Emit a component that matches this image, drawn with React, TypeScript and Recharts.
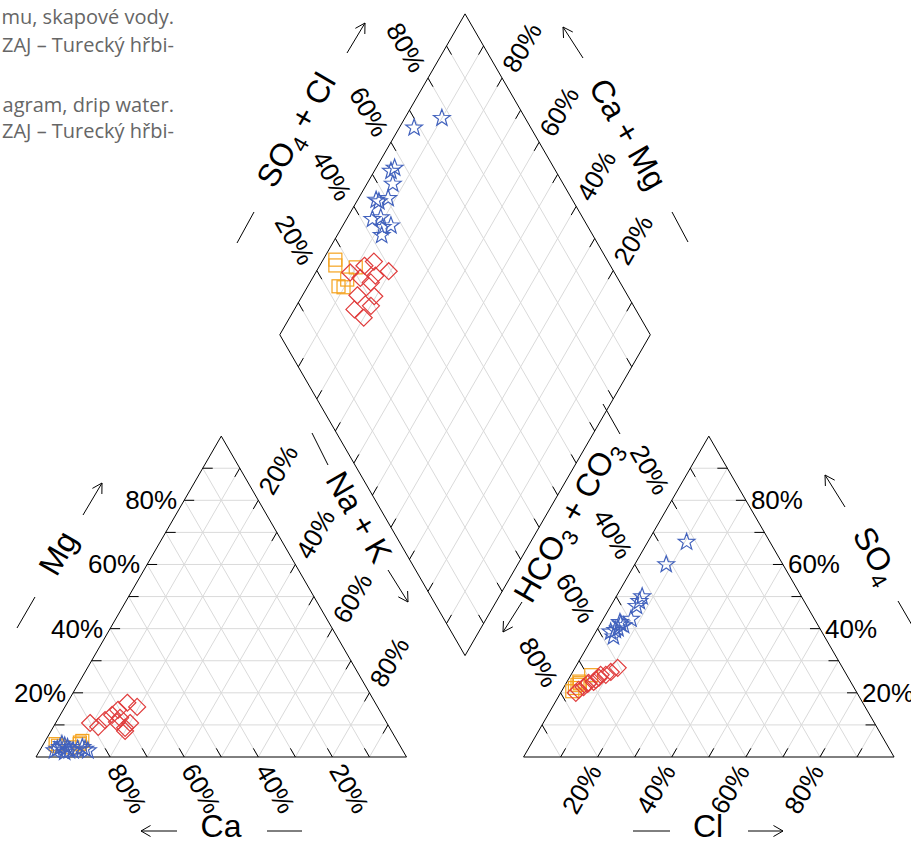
import React from 'react';
import { ScatterChart, Scatter, XAxis, YAxis, ReferenceLine } from 'recharts';

// ---------------- DATA (percent of meq/L) ----------------
// Blue stars
const starCa = [87.5, 94, 92, 93, 90, 90, 90.5, 89, 86, 85.5, 91.5, 91, 85];
const starMg = [2.5, 2, 3, 2.5, 3, 2, 3.5, 2, 3, 2.5, 1.5, 4, 2];
const starNaK = [10, 4, 5, 4.5, 7, 8, 6, 9, 11, 12, 7, 5, 13];
const starHCO3 = [22.5, 31.5, 43, 44.5, 46, 49.5, 52.5, 54.5, 55.5, 57, 57, 53, 53];
const starSO4 = [67, 60, 50, 48.5, 47, 43, 41, 40, 39.5, 37.5, 39, 42, 41.5];
const starCl = [10.5, 8.5, 7, 7, 7, 7.5, 6.5, 5.5, 5, 5.5, 4, 5, 5.5];

// Orange squares
const sqCa = [92.7, 92.3, 85, 85.9, 88.7, 86.2];
const sqMg = [4, 3.5, 5, 4.5, 3, 4];
const sqNaK = [3.3, 4.2, 10, 9.6, 8.3, 9.8];
const sqHCO3 = [73.3, 74.2, 69, 73.2, 76.6, 75.4];
const sqSO4 = [23, 22.5, 25.5, 23.5, 20.5, 21.5];
const sqCl = [3.7, 3.3, 5.5, 3.3, 2.9, 3.1];

// Red diamonds
const diCa = [80.1, 78.5, 75.6, 72.9, 70.5, 66.9, 64.9, 71.2, 72.7, 71.4, 69.3, 71.9];
const diMg = [10.6, 9.4, 11.5, 13.1, 14.7, 16.9, 15.6, 12.2, 10.9, 9.1, 10.6, 8.1];
const diNaK = [9.3, 12.1, 12.9, 14.0, 14.8, 16.2, 19.5, 16.6, 16.4, 19.5, 20.1, 20.0];
const diHCO3 = [71.3, 66.4, 69.4, 63.2, 72.9, 75.9, 60.7, 65.0, 67.3, 68.5, 70.9, 74.7];
const diSO4 = [22.8, 25.6, 23.4, 26.5, 21.8, 20.0, 27.8, 25.6, 24.7, 24.0, 23.1, 20.9];
const diCl = [5.9, 8.0, 7.2, 10.3, 5.3, 4.1, 11.5, 9.4, 8.0, 7.5, 6.0, 4.4];

const gridPct = [10, 20, 30, 40, 50, 60, 70, 80, 90];
const tickLabelPct = [20, 40, 60, 80];

const captionLines = [
  'mu, skapové vody.',
  'ZAJ – Turecký hřbi-',
  'agram, drip water.',
  'ZAJ – Turecký hřbi-',
];

// ---------------- GEOMETRY ----------------
const W = 911;
const H = 843;
const S = 3.705; // px per unit
const X0 = 36;
const Y0 = 757;
const G = 31.6; // gap between triangles (units)
const H3 = Math.sqrt(3) / 2;
const BX = 100 + G / 2;
const BY = G * H3;

type P = { x: number; y: number };
const cat = (ca: number, mg: number, na: number): P => ({ x: na + mg / 2, y: mg * H3 });
const an = (hco3: number, so4: number, cl: number): P => ({ x: 100 + G + cl + so4 / 2, y: so4 * H3 });
const dia = (a: number, s: number): P => ({ x: BX - a / 2 + s / 2, y: BY + (a + s) * H3 });
const fromPx = (x: number, y: number): P => ({ x: (x - X0) / S, y: (Y0 - y) / S });

const xDomain = [-X0 / S, (W - X0) / S];
const yDomain = [(Y0 - H) / S, Y0 / S];

function buildSeries(ca: number[], mg: number[], na: number[], hco3: number[], so4: number[], cl: number[]) {
  const left = ca.map((_, i) => cat(ca[i], mg[i], na[i]));
  const right = hco3.map((_, i) => an(hco3[i], so4[i], cl[i]));
  const mid = ca.map((_, i) => dia(ca[i] + mg[i], so4[i] + cl[i]));
  return [...left, ...right, ...mid];
}

const starPts = buildSeries(starCa, starMg, starNaK, starHCO3, starSO4, starCl);
const sqPts = buildSeries(sqCa, sqMg, sqNaK, sqHCO3, sqSO4, sqCl);
const diPts = buildSeries(diCa, diMg, diNaK, diHCO3, diSO4, diCl);

type Seg = { a: P; b: P };
const gridSegs: Seg[] = [];
const tickSegs: Seg[] = [];
const frameSegs: Seg[] = [];
const decoSegs: Seg[] = [];
const T = 10 / S;

gridPct.forEach((p) => {
  // left triangle
  gridSegs.push({ a: cat(100 - p, p, 0), b: cat(0, p, 100 - p) });
  gridSegs.push({ a: cat(100 - p, 0, p), b: cat(0, 100 - p, p) });
  gridSegs.push({ a: cat(p, 0, 100 - p), b: cat(p, 100 - p, 0) });
  // right triangle
  gridSegs.push({ a: an(100 - p, p, 0), b: an(0, p, 100 - p) });
  gridSegs.push({ a: an(100 - p, 0, p), b: an(0, 100 - p, p) });
  gridSegs.push({ a: an(p, 0, 100 - p), b: an(p, 100 - p, 0) });
  // diamond
  gridSegs.push({ a: dia(p, 0), b: dia(p, 100) });
  gridSegs.push({ a: dia(0, p), b: dia(100, p) });

  // ticks
  tickSegs.push({ a: cat(100 - p, p, 0), b: cat(100 - p - T, p, T) });
  tickSegs.push({ a: cat(p, 0, 100 - p), b: cat(p, T, 100 - p - T) });
  tickSegs.push({ a: cat(0, 100 - p, p), b: cat(T, 100 - p - T, p) });
  tickSegs.push({ a: an(100 - p, 0, p), b: an(100 - p - T, T, p) });
  tickSegs.push({ a: an(0, p, 100 - p), b: an(T, p, 100 - p - T) });
  tickSegs.push({ a: an(p, 100 - p, 0), b: an(p, 100 - p - T, T) });
  tickSegs.push({ a: dia(100, p), b: dia(100 - T, p) });
  tickSegs.push({ a: dia(p, 100), b: dia(p, 100 - T) });
  tickSegs.push({ a: dia(p, 0), b: dia(p, T) });
  tickSegs.push({ a: dia(0, p), b: dia(T, p) });
});

const polys: P[][] = [
  [cat(100, 0, 0), cat(0, 0, 100), cat(0, 100, 0)],
  [an(100, 0, 0), an(0, 0, 100), an(0, 100, 0)],
  [dia(0, 0), dia(100, 0), dia(100, 100), dia(0, 100)],
];
polys.forEach((poly) => {
  poly.forEach((pt, i) => frameSegs.push({ a: pt, b: poly[(i + 1) % poly.length] }));
});

// titles, arrows, dashes (pixel layout)
type Part = { t: string; sub?: boolean };
type TitleSpec = { parts: Part[]; c: [number, number]; angle: number; arrow: [number, number, number, number]; dash: [number, number, number, number] };
const titles: TitleSpec[] = [
  { parts: [{ t: 'Ca' }], c: [221, 826], angle: 0, arrow: [177, 831, 141, 831], dash: [267, 831, 302, 831] },
  { parts: [{ t: 'Cl' }], c: [708, 826], angle: 0, arrow: [748, 831, 783, 831], dash: [633, 831, 670, 831] },
  { parts: [{ t: 'Mg' }], c: [58, 553], angle: -60, arrow: [83, 515, 102, 483], dash: [17, 628, 35, 597] },
  { parts: [{ t: 'SO' }, { t: '4', sub: true }], c: [876, 555], angle: 60, arrow: [845, 507, 825, 475], dash: [898, 601, 916, 632] },
  { parts: [{ t: 'Na + K' }], c: [359, 517], angle: 60, arrow: [388, 570, 408, 602], dash: [312, 433, 328, 465] },
  { parts: [{ t: 'HCO' }, { t: '3', sub: true }, { t: ' + CO' }, { t: '3', sub: true }], c: [567, 521], angle: -60, arrow: [522, 602, 503, 632], dash: [603, 404, 620, 434] },
  { parts: [{ t: 'SO' }, { t: '4', sub: true }, { t: ' + Cl' }], c: [296, 130], angle: -60, arrow: [347, 53, 365, 23], dash: [237, 243, 254, 212] },
  { parts: [{ t: 'Ca + Mg' }], c: [628, 134], angle: 60, arrow: [583, 58, 563, 27], dash: [672, 212, 688, 242] },
];

titles.forEach((tt) => {
  const [x1, y1, x2, y2] = tt.arrow;
  decoSegs.push({ a: fromPx(x1, y1), b: fromPx(x2, y2) });
  const ang = Math.atan2(y2 - y1, x2 - x1);
  const L = 11;
  [Math.PI / 6, -Math.PI / 6].forEach((d) => {
    const a2 = ang + Math.PI + d;
    decoSegs.push({ a: fromPx(x2, y2), b: fromPx(x2 + L * Math.cos(a2), y2 + L * Math.sin(a2)) });
  });
  const [d1, e1, d2, e2] = tt.dash;
  decoSegs.push({ a: fromPx(d1, e1), b: fromPx(d2, e2) });
});

type Lab = P & { parts: Part[]; angle: number; anchor: 'start' | 'middle' | 'end'; dx: number; dy: number; size: number };
const labels: Lab[] = [];
const TS = 26;
tickLabelPct.forEach((v) => {
  const parts = [{ t: `${v}%` }];
  labels.push({ ...cat(100 - v, v, 0), parts, angle: 0, anchor: 'end', dx: -7, dy: 0, size: TS });
  labels.push({ ...cat(v, 0, 100 - v), parts, angle: 60, anchor: 'start', dx: 4, dy: 9, size: TS });
  labels.push({ ...cat(0, 100 - v, v), parts, angle: -60, anchor: 'start', dx: 7, dy: -8, size: TS });
  labels.push({ ...an(100 - v, 0, v), parts, angle: -60, anchor: 'end', dx: -3, dy: 9.5, size: TS });
  labels.push({ ...an(0, v, 100 - v), parts, angle: 0, anchor: 'start', dx: 5, dy: 0, size: TS });
  labels.push({ ...an(v, 100 - v, 0), parts, angle: 60, anchor: 'end', dx: -9, dy: -8, size: TS });
  labels.push({ ...dia(100, v), parts, angle: 60, anchor: 'end', dx: -9, dy: -8, size: TS });
  labels.push({ ...dia(v, 100), parts, angle: -60, anchor: 'start', dx: 7, dy: -8, size: TS });
});
titles.forEach((tt) => {
  labels.push({ ...fromPx(tt.c[0], tt.c[1]), parts: tt.parts, angle: tt.angle, anchor: 'middle', dx: 0, dy: 0, size: 32 });
});

// ---------------- SHAPES ----------------
const FONT = "'Liberation Sans', Arial, Helvetica, sans-serif";
const BLUE = '#4262bd';
const ORANGE = '#f5a31e';
const RED = '#e03c3c';

const StarShape = (props: any) => {
  const { cx, cy } = props;
  if (cx == null || cy == null) return null;
  const R = 8.8, r = 3.6;
  let d = '';
  for (let i = 0; i < 10; i++) {
    const a = -Math.PI / 2 + (i * Math.PI) / 5;
    const rad = i % 2 === 0 ? R : r;
    d += (i === 0 ? 'M' : 'L') + (cx + rad * Math.cos(a)).toFixed(2) + ',' + (cy + rad * Math.sin(a)).toFixed(2);
  }
  return <path d={d + 'Z'} fill="none" stroke={BLUE} strokeWidth={1.2} />;
};
const SquareShape = (props: any) => {
  const { cx, cy } = props;
  if (cx == null || cy == null) return null;
  return <rect x={cx - 6.5} y={cy - 6.5} width={13} height={13} fill="none" stroke={ORANGE} strokeWidth={1.2} />;
};
const DiamondShape = (props: any) => {
  const { cx, cy } = props;
  if (cx == null || cy == null) return null;
  const r = 8.5;
  return <path d={`M${cx},${cy - r}L${cx + r},${cy}L${cx},${cy + r}L${cx - r},${cy}Z`} fill="none" stroke={RED} strokeWidth={1.2} />;
};
const LabelShape = (props: any) => {
  const { cx, cy, payload } = props;
  if (cx == null || cy == null || !payload) return null;
  const x = cx + payload.dx;
  const y = cy + payload.dy;
  let shift = 0;
  return (
    <text
      x={x}
      y={y}
      textAnchor={payload.anchor}
      dominantBaseline="central"
      fontSize={payload.size}
      fontFamily={FONT}
      fill="#000"
      style={{ whiteSpace: 'pre' }}
      transform={payload.angle ? `rotate(${payload.angle} ${x} ${y})` : undefined}
    >
      {payload.parts.map((p: Part, i: number) => {
        const target = p.sub ? payload.size * 0.33 : 0;
        const d = target - shift;
        shift = target;
        return (
          <tspan key={i} dy={d} fontSize={p.sub ? payload.size * 0.7 : payload.size}>
            {p.t}
          </tspan>
        );
      })}
    </text>
  );
};

export default function App() {
  return (
    <div style={{ position: 'absolute', left: 0, top: 0, width: W, height: H, background: '#fff', overflow: 'hidden' }}>
      {captionLines.map((line, i) => (
        <div
          key={i}
          style={{
            position: 'absolute',
            left: 174 - 600,
            width: 600,
            textAlign: 'right',
            top: [5, 33, 93, 119][i],
            whiteSpace: 'nowrap',
            fontFamily: "'Open Sans', 'Noto Sans', sans-serif",
            fontSize: 20,
            lineHeight: '24px',
            color: '#666',
          }}
        >
          {line}
        </div>
      ))}
      <div style={{ position: 'absolute', left: 0, top: 0 }}>
        <ScatterChart width={W} height={H} margin={{ top: 0, right: 0, bottom: 0, left: 0 }}>
          <XAxis type="number" dataKey="x" domain={xDomain} allowDataOverflow hide />
          <YAxis type="number" dataKey="y" domain={yDomain} allowDataOverflow hide />
          {gridSegs.map((s, i) => (
            <ReferenceLine key={'g' + i} segment={[s.a, s.b]} stroke="#dadada" strokeWidth={1} ifOverflow="visible" />
          ))}
          {frameSegs.map((s, i) => (
            <ReferenceLine key={'f' + i} segment={[s.a, s.b]} stroke="#000" strokeWidth={1} ifOverflow="visible" />
          ))}
          {tickSegs.map((s, i) => (
            <ReferenceLine key={'t' + i} segment={[s.a, s.b]} stroke="#000" strokeWidth={1} ifOverflow="visible" />
          ))}
          {decoSegs.map((s, i) => (
            <ReferenceLine key={'d' + i} segment={[s.a, s.b]} stroke="#000" strokeWidth={1} ifOverflow="visible" />
          ))}
          <Scatter name="squares" data={sqPts} shape={SquareShape} isAnimationActive={false} />
          <Scatter name="diamonds" data={diPts} shape={DiamondShape} isAnimationActive={false} />
          <Scatter name="stars" data={starPts} shape={StarShape} isAnimationActive={false} />
          <Scatter name="labels" data={labels} shape={LabelShape} isAnimationActive={false} />
        </ScatterChart>
      </div>
    </div>
  );
}
